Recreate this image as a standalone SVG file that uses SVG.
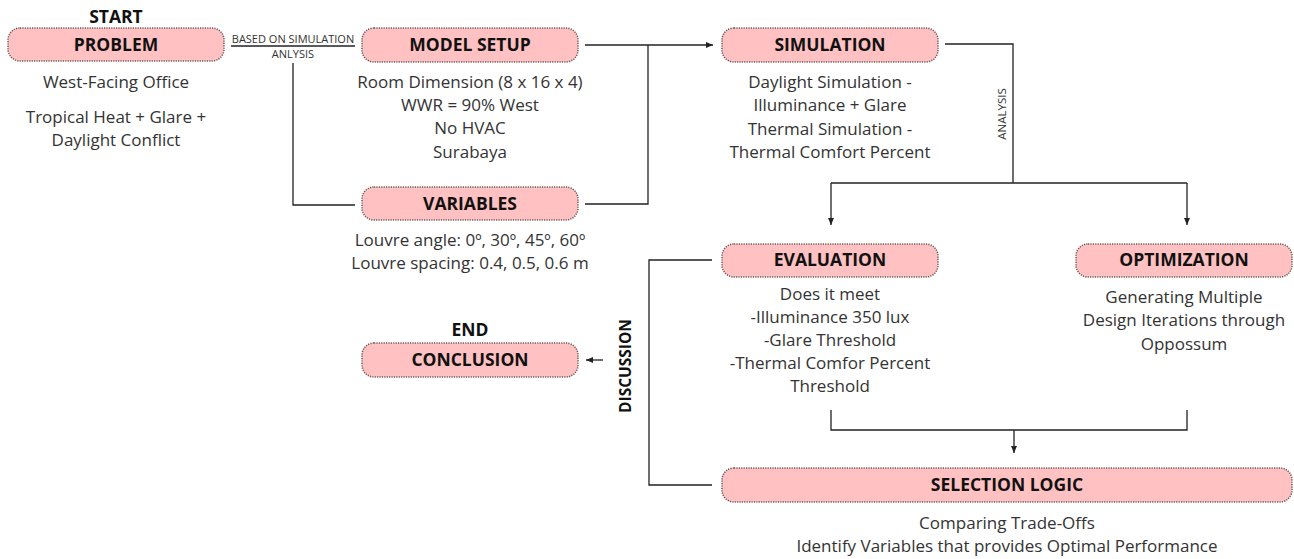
<svg xmlns="http://www.w3.org/2000/svg" width="1294" height="559" viewBox="0 0 1294 559">
<defs>
<style>
.box{fill:#ffc1c1;stroke:#6b5555;stroke-width:1.5;stroke-dasharray:1.2 1.2}
.h{font-family:"Open Sans","Liberation Sans",sans-serif;font-weight:bold;font-size:17.5px;fill:#111;text-anchor:middle}
.t{font-family:"Open Sans","Liberation Sans",sans-serif;font-size:17px;fill:#333;text-anchor:middle}
.s{font-family:"Open Sans","Liberation Sans",sans-serif;font-size:11px;fill:#333;text-anchor:middle}
.ln{fill:none;stroke:#222;stroke-width:1.3}
</style>
<marker id="ah" markerWidth="8" markerHeight="8" refX="7" refY="4" orient="auto" markerUnits="userSpaceOnUse">
<path d="M0,1 L7,4 L0,7 Z" fill="#222"/>
</marker>
</defs>
<rect width="1294" height="559" fill="#fff"/>

<g id="connectors">
<line class="ln" x1="231" y1="46" x2="355" y2="46"/>
<text class="s" x="293" y="43">BASED ON SIMULATION</text>
<text class="s" x="293" y="58">ANLYSIS</text>
<polyline class="ln" points="293,63 293,205 355,205"/>
<line class="ln" x1="585" y1="45" x2="713" y2="45" marker-end="url(#ah)"/>
<polyline class="ln" points="585,204 648,204 648,45"/>
<polyline class="ln" points="945,44 1013,44 1013,183"/>
<text class="s" style="font-size:11.5px" transform="translate(1006,114) rotate(-90)">ANALYSIS</text>
<line class="ln" x1="831" y1="183" x2="1187" y2="183"/>
<line class="ln" x1="831" y1="183" x2="831" y2="225" marker-end="url(#ah)"/>
<line class="ln" x1="1187" y1="183" x2="1187" y2="225" marker-end="url(#ah)"/>
<polyline class="ln" points="831,410 831,430 1187,430 1187,410"/>
<line class="ln" x1="1014" y1="430" x2="1014" y2="453" marker-end="url(#ah)"/>
<polyline class="ln" points="712,260 649,260 649,485 712,485"/>
<text class="h" transform="translate(631,366) rotate(-90)" style="font-size:15.5px">DISCUSSION</text>
<line class="ln" x1="603" y1="360" x2="586" y2="360" marker-end="url(#ah)"/>
</g>

<g id="problem">
<text class="h" x="116" y="23">START</text>
<rect class="box" x="8" y="28" width="216" height="33" rx="12"/>
<text class="h" x="116" y="51">PROBLEM</text>
<text class="t" x="116" y="88">West-Facing Office</text>
<text class="t" x="116" y="123">Tropical Heat + Glare +</text>
<text class="t" x="116" y="146">Daylight Conflict</text>
</g>

<g id="model-setup">
<rect class="box" x="362" y="28" width="216" height="34" rx="12"/>
<text class="h" x="470" y="51">MODEL SETUP</text>
<text class="t" x="470" y="88">Room Dimension (8 x 16 x 4)</text>
<text class="t" x="470" y="111">WWR = 90% West</text>
<text class="t" x="470" y="134">No HVAC</text>
<text class="t" x="470" y="158">Surabaya</text>
</g>

<g id="variables">
<rect class="box" x="362" y="187" width="216" height="33" rx="12"/>
<text class="h" x="470" y="210">VARIABLES</text>
<text class="t" x="470" y="246">Louvre angle: 0º, 30º, 45º, 60º</text>
<text class="t" x="470" y="269">Louvre spacing: 0.4, 0.5, 0.6 m</text>
</g>

<g id="simulation">
<rect class="box" x="722" y="28" width="216" height="34" rx="12"/>
<text class="h" x="830" y="51">SIMULATION</text>
<text class="t" x="830" y="88">Daylight Simulation -</text>
<text class="t" x="830" y="111">Illuminance + Glare</text>
<text class="t" x="830" y="135">Thermal Simulation -</text>
<text class="t" x="830" y="158">Thermal Comfort Percent</text>
</g>

<g id="evaluation">
<rect class="box" x="722" y="244" width="216" height="33" rx="12"/>
<text class="h" x="830" y="266">EVALUATION</text>
<text class="t" x="830" y="300">Does it meet</text>
<text class="t" x="830" y="323">-Illuminance 350 lux</text>
<text class="t" x="830" y="346">-Glare Threshold</text>
<text class="t" x="830" y="369">-Thermal Comfor Percent</text>
<text class="t" x="830" y="392">Threshold</text>
</g>

<g id="optimization">
<rect class="box" x="1076" y="244" width="216" height="33" rx="12"/>
<text class="h" x="1184" y="266">OPTIMIZATION</text>
<text class="t" x="1184" y="303">Generating Multiple</text>
<text class="t" x="1184" y="326">Design Iterations through</text>
<text class="t" x="1184" y="350">Oppossum</text>
</g>

<g id="selection-logic">
<rect class="box" x="722" y="468" width="570" height="34" rx="12"/>
<text class="h" x="1007" y="491">SELECTION LOGIC</text>
<text class="t" x="1007" y="529">Comparing Trade-Offs</text>
<text class="t" x="1007" y="552">Identify Variables that provides Optimal Performance</text>
</g>

<g id="conclusion">
<text class="h" x="470" y="336">END</text>
<rect class="box" x="362" y="343" width="216" height="34" rx="12"/>
<text class="h" x="470" y="366">CONCLUSION</text>
</g>
</svg>
